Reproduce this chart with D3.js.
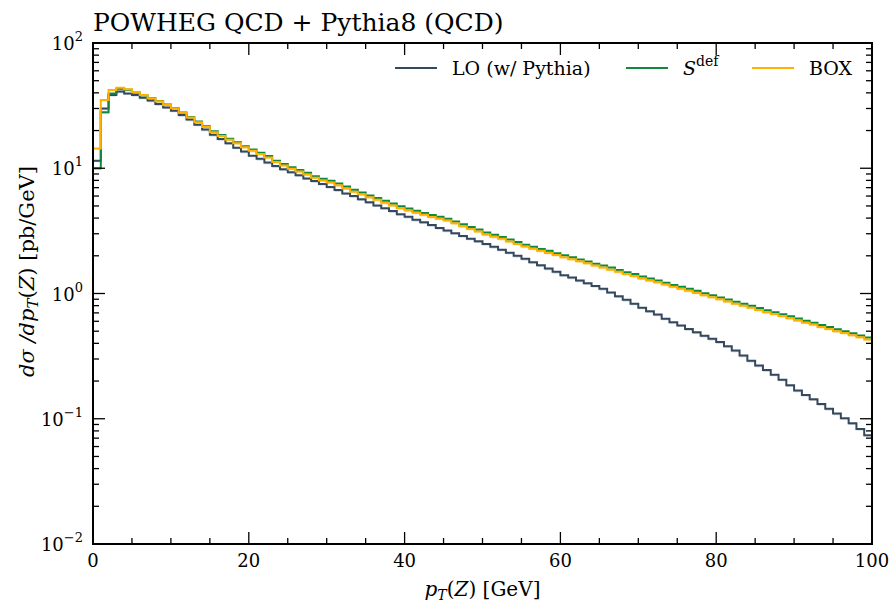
<!DOCTYPE html>
<html>
<head>
<meta charset="utf-8">
<script src="https://cdnjs.cloudflare.com/ajax/libs/d3/7.8.5/d3.min.js"></script>
<style>
  body { margin: 0; background: #fff; }
</style>
</head>
<body>
<div id="chart"></div>
<script>
// bin edges of the pT(Z) histogram, GeV (100 bins of 1 GeV)
var binEdges = d3.range(0, 101, 1);

// dsigma/dpT [pb/GeV] per bin
var loPythia = [11.5, 30.0, 38.5, 41.0, 39.6, 38.5, 36.6, 34.7, 32.6, 30.6,
  28.8, 26.6, 24.5, 22.3, 20.4, 18.5, 17.1, 15.8, 14.6, 13.6,
  12.6, 11.9, 11.1, 10.4, 9.8, 9.3, 8.8, 8.3, 7.9, 7.5,
  7.1, 6.7, 6.3, 6.0, 5.65, 5.35, 5.05, 4.8, 4.55, 4.3,
  4.1, 3.88, 3.70, 3.52, 3.34, 3.18, 3.03, 2.88, 2.74, 2.61,
  2.49, 2.36, 2.24, 2.12, 2.00, 1.89, 1.78, 1.68, 1.58, 1.49,
  1.40, 1.34, 1.27, 1.21, 1.15, 1.09, 1.02, 0.95, 0.89, 0.83,
  0.77, 0.72, 0.68, 0.63, 0.59, 0.556, 0.52, 0.49, 0.46, 0.435,
  0.41, 0.38, 0.35, 0.32, 0.29, 0.266, 0.245, 0.225, 0.205, 0.185,
  0.168, 0.155, 0.143, 0.131, 0.120, 0.110, 0.101, 0.092, 0.083, 0.074];

var sDef = [10.0, 28.0, 39.5, 43.2, 42.3, 40.2, 38.3, 36.3, 34.4, 32.3,
  30.3, 27.9, 25.7, 23.6, 21.6, 19.7, 18.4, 17.2, 16.1, 15.0,
  14.1, 13.3, 12.5, 11.5, 10.8, 10.2, 9.7, 9.2, 8.65, 8.25,
  7.95, 7.55, 7.15, 6.75, 6.4, 6.07, 5.8, 5.5, 5.22, 4.98,
  4.77, 4.58, 4.4, 4.23, 4.1, 3.96, 3.76, 3.57, 3.4, 3.24,
  3.07, 2.95, 2.83, 2.70, 2.58, 2.45, 2.36, 2.27, 2.19, 2.10,
  2.02, 1.95, 1.87, 1.80, 1.73, 1.67, 1.61, 1.54, 1.48, 1.43,
  1.37, 1.32, 1.27, 1.22, 1.17, 1.13, 1.09, 1.05, 1.005, 0.97,
  0.93, 0.895, 0.86, 0.83, 0.80, 0.765, 0.735, 0.71, 0.683, 0.657,
  0.632, 0.606, 0.585, 0.56, 0.54, 0.518, 0.50, 0.482, 0.463, 0.445];

var box = [14.4, 35.0, 42.2, 44.0, 42.7, 40.4, 38.4, 36.2, 34.2, 32.0,
  30.1, 27.7, 25.4, 23.3, 21.3, 19.4, 18.1, 16.9, 15.8, 14.7,
  13.8, 13.0, 12.2, 11.2, 10.5, 9.9, 9.4, 8.9, 8.4, 8.0,
  7.7, 7.3, 6.9, 6.5, 6.2, 5.87, 5.6, 5.3, 5.05, 4.8,
  4.6, 4.42, 4.25, 4.08, 3.96, 3.83, 3.63, 3.45, 3.28, 3.12,
  2.96, 2.84, 2.73, 2.60, 2.49, 2.37, 2.28, 2.19, 2.11, 2.03,
  1.95, 1.88, 1.81, 1.74, 1.67, 1.61, 1.55, 1.49, 1.43, 1.38,
  1.32, 1.27, 1.23, 1.18, 1.13, 1.09, 1.05, 1.01, 0.97, 0.935,
  0.90, 0.865, 0.83, 0.80, 0.77, 0.74, 0.71, 0.685, 0.66, 0.635,
  0.61, 0.585, 0.565, 0.54, 0.52, 0.50, 0.483, 0.465, 0.447, 0.43];

var seriesNames = ["LO (w/ Pythia)", "Sdef", "BOX"];
var seriesColors = ["#34495e", "#0f8a3c", "#ffb000"];
var xTicks = [0, 20, 40, 60, 80, 100];
var yTickExp = [-2, -1, 0, 1, 2];

var W = 889, H = 603;
var margin = {top: 43, right: 17, bottom: 59, left: 93},
    width = W - margin.left - margin.right,
    height = H - margin.top - margin.bottom;

var svg = d3.select("#chart").append("svg")
    .attr("width", W).attr("height", H)
    .style("font-family", "'DejaVu Serif', serif");

var g = svg.append("g")
    .attr("transform", "translate(" + margin.left + "," + margin.top + ")");

var x = d3.scaleLinear().domain([0, 100]).range([0, width]);
var y = d3.scaleLog().domain([1e-2, 1e2]).range([height, 0]);

g.append("clipPath").attr("id", "clip")
  .append("rect").attr("width", width).attr("height", height);

var series = [loPythia, sDef, box];

function stepPoints(vals) {
  var pts = vals.map(function(v, i) { return [binEdges[i], v]; });
  pts.push([binEdges[vals.length], vals[vals.length - 1]]);
  return pts;
}

var line = d3.line()
  .x(function(d) { return x(d[0]); })
  .y(function(d) { return y(d[1]); })
  .curve(d3.curveStepAfter);

var band = d3.area()
  .x(function(d) { return x(d[0]); })
  .y0(function(d) { return y(d[1] * 0.97); })
  .y1(function(d) { return y(d[1]); })
  .curve(d3.curveStepAfter);

var plot = g.append("g").attr("clip-path", "url(#clip)");

series.forEach(function(vals, k) {
  plot.append("path")
    .attr("d", band(stepPoints(vals)))
    .attr("fill", seriesColors[k])
    .attr("opacity", 0.25);
});
series.forEach(function(vals, k) {
  plot.append("path")
    .attr("d", line(stepPoints(vals)))
    .attr("fill", "none")
    .attr("stroke", seriesColors[k])
    .attr("stroke-width", 2);
});

// ticks (inward, mirrored on all sides)
var majorLen = 12, minorLen = 6;
var xMinor = d3.range(0, 101, 5);
var yMinor = [];
for (var e = -2; e < 2; e++) {
  for (var m = 2; m <= 9; m++) yMinor.push(m * Math.pow(10, e));
}

var ticks = g.append("g").attr("stroke", "#000").attr("stroke-width", 1.3);
xMinor.forEach(function(v) {
  var len = xTicks.indexOf(v) >= 0 ? majorLen : minorLen;
  ticks.append("line").attr("x1", x(v)).attr("x2", x(v)).attr("y1", height).attr("y2", height - len);
  ticks.append("line").attr("x1", x(v)).attr("x2", x(v)).attr("y1", 0).attr("y2", len);
});
yTickExp.forEach(function(p) {
  var v = Math.pow(10, p);
  ticks.append("line").attr("x1", 0).attr("x2", majorLen).attr("y1", y(v)).attr("y2", y(v));
  ticks.append("line").attr("x1", width).attr("x2", width - majorLen).attr("y1", y(v)).attr("y2", y(v));
});
yMinor.forEach(function(v) {
  ticks.append("line").attr("x1", 0).attr("x2", minorLen).attr("y1", y(v)).attr("y2", y(v));
  ticks.append("line").attr("x1", width).attr("x2", width - minorLen).attr("y1", y(v)).attr("y2", y(v));
});

g.append("rect")
  .attr("width", width).attr("height", height)
  .attr("fill", "none").attr("stroke", "#000").attr("stroke-width", 2);

// tick labels
var xLab = g.append("g").attr("font-size", 18).attr("text-anchor", "middle");
xTicks.forEach(function(v) {
  xLab.append("text").attr("x", x(v)).attr("y", height + 23).text(v);
});

var yLab = g.append("g").attr("font-size", 18).attr("text-anchor", "end");
yTickExp.forEach(function(p) {
  var t = yLab.append("text").attr("x", -10).attr("y", y(Math.pow(10, p)) + 7);
  t.append("tspan").text("10");
  t.append("tspan").attr("dy", -9).attr("font-size", 13).text(p < 0 ? "\u2212" + (-p) : p);
});

// title
svg.append("text")
  .attr("x", margin.left).attr("y", 31)
  .attr("font-size", 25)
  .text("POWHEG QCD + Pythia8 (QCD)");

// axis labels
var xl = svg.append("text")
  .attr("x", margin.left + width / 2).attr("y", 596)
  .attr("text-anchor", "middle").attr("font-size", 20);
xl.append("tspan").attr("font-style", "italic").text("p");
xl.append("tspan").attr("font-style", "italic").attr("font-size", 14).attr("dy", 4).text("T");
xl.append("tspan").attr("dy", -4).text("(");
xl.append("tspan").attr("font-style", "italic").text("Z");
xl.append("tspan").text(") [GeV]");

var yl = svg.append("text")
  .attr("transform", "translate(34," + (margin.top + height / 2 - 22) + ") rotate(-90)")
  .attr("text-anchor", "middle").attr("font-size", 21);
yl.append("tspan").attr("font-style", "italic").text("d\u03c3 /dp");
yl.append("tspan").attr("font-style", "italic").attr("font-size", 15).attr("dy", 4).text("T");
yl.append("tspan").attr("dy", -4).text("(");
yl.append("tspan").attr("font-style", "italic").text("Z");
yl.append("tspan").text(") [pb/GeV]");

// legend
var legX = [395, 626, 752];
var leg = svg.append("g").attr("font-size", 19);
seriesNames.forEach(function(name, k) {
  leg.append("line")
    .attr("x1", legX[k]).attr("x2", legX[k] + 42)
    .attr("y1", 68).attr("y2", 68)
    .attr("stroke", seriesColors[k]).attr("stroke-width", 2);
  var t = leg.append("text").attr("x", legX[k] + 57).attr("y", 75);
  if (name === "Sdef") {
    t.append("tspan").attr("font-style", "italic").text("S");
    t.append("tspan").attr("font-size", 14).attr("dy", -9).text("def");
  } else {
    t.text(name);
  }
});
</script>
</body>
</html>
